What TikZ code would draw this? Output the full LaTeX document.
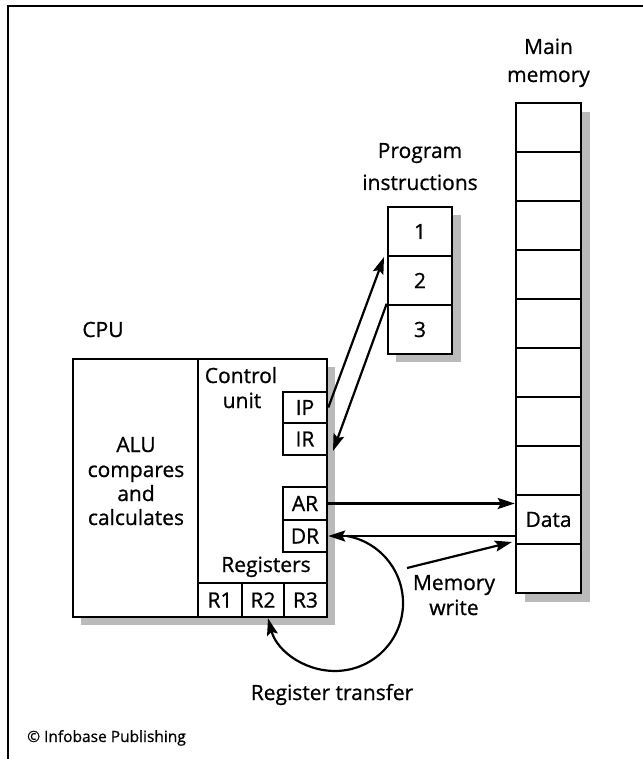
\documentclass[tikz,border=0pt]{standalone}
\usepackage{fontspec}
\setmainfont{Open Sans}[FakeBold=0.8]
\usetikzlibrary{arrows.meta,calc}
\begin{document}
\begin{tikzpicture}[x=1pt,y=-1pt,
  txt/.style={font=\fontsize{21}{24}\selectfont},
  lbl/.style={txt, inner sep=0pt, anchor=base},
  cell/.style={txt, draw, line width=2.6pt, fill=white, inner sep=0pt, minimum width=#1},
  shadowbox/.style={fill=black!27, draw=none},
  arr/.style={line width=2.2pt, -{Stealth[length=17pt,width=11pt,inset=3pt]}},
  ]
\useasboundingbox (0,0) rectangle (642,759);
% frame
\draw[line width=1.6pt] (8,770) -- (8,6) -- (650,6);

% shadows
\fill[shadowbox] (81,367) rectangle (335,625);
\fill[shadowbox] (396,215) rectangle (461,362);
\fill[shadowbox] (525,112) rectangle (590,602);

% CPU
\node[lbl] (cpulbl) at (103,337) {CPU};
\node[cell=254pt, minimum height=258pt] (cpu) at (200,488) {};
\draw[line width=2.6pt] (198,359) -- (198,617);
\node[lbl] (alu1) at (136,452) {ALU};
\node[lbl] (alu2) at (136,477) {compares};
\node[lbl] (alu3) at (136,501) {and};
\node[lbl] (alu4) at (136,525) {calculates};
\node[lbl] (cu1) at (241,383) {Control};
\node[lbl] (cu2) at (242,408) {unit};
\node[cell=44pt, minimum height=31pt] (ip) at (305,407.5) {IP};
\node[cell=44pt, minimum height=32pt] (ir) at (305,439) {IR};
\node[cell=44pt, minimum height=33pt] (ar) at (305,503.5) {AR};
\node[cell=44pt, minimum height=32pt] (dr) at (305,536) {DR};
\node[lbl] (reglbl) at (266,572) {Registers};
\node[cell=44pt, minimum height=34pt] (r1) at (220,600) {R1};
\node[cell=42pt, minimum height=34pt] (r2) at (263,600) {R2};
\node[cell=43pt, minimum height=34pt] (r3) at (305.5,600) {R3};

% Program instructions
\node[lbl] (pi1) at (420,158) {Program};
\node[lbl] (pi2) at (420,190) {instructions};
\node[cell=64pt, minimum height=49pt] (c1) at (420,231.5) {1};
\node[cell=64pt, minimum height=49pt] (c2) at (420,280.5) {2};
\node[cell=64pt, minimum height=49pt] (c3) at (420,329.5) {3};

% Main memory
\node[lbl] (mm1) at (548.5,54) {Main};
\node[lbl] (mm2) at (548.5,82) {memory};
\foreach \i in {1,...,10} {
  \node[cell=65pt, minimum height=49pt] (mem\i) at (548.5,{127.5+49*(\i-1)}) {\ifnum\i=9 Data\fi};
}

% arrows IP / IR
\coordinate (p2tip) at (384,257);
\coordinate (irtip) at (333,451);
\draw[arr] (ip.east) -- (p2tip);
\draw[arr] (c3.north west) -- (irtip);

% AR / DR
\draw[arr] (ar.east) -- (ar.east -| mem9.west);
\draw[arr] (dr.east -| mem9.west) -- (dr.east);

% memory write
\coordinate (mwstart) at (407,568);
\coordinate (mwend) at (512,542);
\draw[arr] (mwstart) -- (mwend);
\node[lbl] (mw1) at (454,590) {Memory};
\node[lbl] (mw2) at (454,615) {write};

% register transfer
\coordinate (rtstart) at (346.8,536);
\draw[arr] (rtstart) .. controls (380.2,541.9) and (404.1,571.5) .. (403,605.4)
   .. controls (401.8,639.3) and (375.8,667.1) .. (342.1,670.6)
   .. controls (308.4,674.1) and (277.2,652.3) .. ([xshift=5pt]r2.south);
\node[lbl] (rt) at (332,700) {Register transfer};

% copyright
\node[lbl, anchor=base west, font=\fontsize{15.5}{18}\selectfont] (copy) at (27,742) {© Infobase Publishing};
\end{tikzpicture}
\end{document}
